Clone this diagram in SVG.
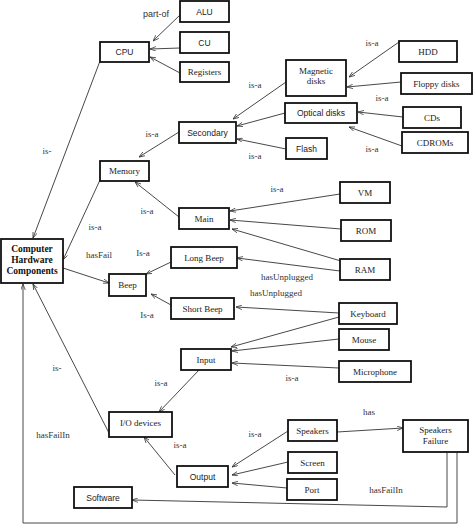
<svg xmlns="http://www.w3.org/2000/svg" width="474" height="529" viewBox="0 0 474 529">
<style>
.box{fill:#fff;stroke:#111;stroke-width:1.8}
.t{font-family:"Liberation Serif",serif;font-size:9px;fill:#222;text-anchor:middle;dominant-baseline:central}
.s{font-family:"Liberation Sans",sans-serif;font-size:8.5px;fill:#222;text-anchor:middle;dominant-baseline:central}
.b{font-family:"Liberation Serif",serif;font-size:9.5px;font-weight:bold;fill:#111;text-anchor:middle}
.l{font-family:"Liberation Serif",serif;font-size:9px;fill:#333;text-anchor:middle;dominant-baseline:central}
.ls{font-family:"Liberation Sans",sans-serif;font-size:9px;fill:#333;text-anchor:middle;dominant-baseline:central}
.c{fill:none;stroke:#333;stroke-width:0.9}
.a{marker-end:url(#ah)}
</style>
<defs>
<marker id="ah" viewBox="0 0 8 6" refX="8" refY="3" markerWidth="6" markerHeight="5" orient="auto" markerUnits="userSpaceOnUse">
<path d="M0,0 L8,3 L0,6" fill="none" stroke="#333" stroke-width="1"/>
</marker>
</defs>
<rect width="474" height="529" fill="#fff"/>
<g id="connectors">
<line class="c a" x1="180" y1="15" x2="153" y2="41"/>
<line class="c a" x1="180" y1="48" x2="150" y2="49"/>
<line class="c a" x1="180" y1="73" x2="150" y2="57"/>
<line class="c a" x1="100" y1="61" x2="33" y2="238"/>
<line class="c a" x1="179" y1="132" x2="139" y2="157"/>
<line class="c a" x1="286" y1="82" x2="233" y2="119"/>
<line class="c a" x1="285" y1="113" x2="237" y2="126"/>
<line class="c a" x1="286" y1="149" x2="237" y2="139"/>
<line class="c a" x1="399" y1="42" x2="349" y2="77"/>
<line class="c a" x1="401" y1="82" x2="347" y2="87"/>
<line class="c a" x1="403" y1="117" x2="358" y2="112"/>
<line class="c a" x1="402" y1="146" x2="349" y2="127"/>
<line class="c a" x1="179" y1="217" x2="135" y2="182"/>
<line class="c a" x1="100" y1="180" x2="63" y2="260"/>
<line class="c a" x1="340" y1="194" x2="230" y2="211"/>
<line class="c a" x1="341" y1="229" x2="230" y2="220"/>
<line class="c a" x1="341" y1="261" x2="232" y2="229"/>
<line class="c a" x1="340" y1="271" x2="237" y2="258"/>
<line class="c a" x1="339" y1="313" x2="236" y2="307"/>
<line class="c a" x1="339" y1="317" x2="231" y2="347"/>
<line class="c a" x1="339" y1="339" x2="232" y2="351"/>
<line class="c a" x1="339" y1="368" x2="232" y2="363"/>
<line class="c a" x1="171" y1="262" x2="146" y2="274"/>
<line class="c a" x1="171" y1="305" x2="151" y2="294"/>
<line class="c a" x1="63" y1="268" x2="109" y2="283"/>
<line class="c a" x1="199" y1="370" x2="159" y2="412"/>
<line class="c a" x1="175" y1="475" x2="144" y2="437"/>
<line class="c a" x1="109" y1="433" x2="33" y2="284"/>
<line class="c a" x1="288" y1="431" x2="232" y2="467"/>
<line class="c a" x1="288" y1="462" x2="232" y2="475"/>
<line class="c a" x1="287" y1="488" x2="232" y2="483"/>
<line class="c a" x1="337" y1="432" x2="403" y2="428"/>
<polyline class="c a" points="447,452 447,507 132,500"/>
<polyline class="c a" points="457,452 457,523 23,523 23,284"/>
</g>
<g id="labels">
<text class="ls" x="156" y="14">part-of</text>
<text class="l" x="47" y="151">is-</text>
<text class="l" x="152" y="134">is-a</text>
<text class="l" x="372" y="43">is-a</text>
<text class="l" x="255" y="85">is-a</text>
<text class="l" x="382" y="98">is-a</text>
<text class="l" x="372" y="149">is-a</text>
<text class="l" x="255" y="156">is-a</text>
<text class="l" x="95" y="227">is-a</text>
<text class="l" x="147" y="211">is-a</text>
<text class="l" x="277" y="189">is-a</text>
<text class="l" x="99" y="255">hasFail</text>
<text class="l" x="143" y="253">Is-a</text>
<text class="l" x="147" y="315">Is-a</text>
<text class="l" x="287" y="277">hasUnplugged</text>
<text class="l" x="276" y="293">hasUnplugged</text>
<text class="l" x="57" y="368">is-</text>
<text class="l" x="161" y="383">is-a</text>
<text class="l" x="292" y="378">is-a</text>
<text class="l" x="53" y="435">hasFailIn</text>
<text class="l" x="180" y="445">is-a</text>
<text class="l" x="369" y="412">has</text>
<text class="l" x="255" y="434">is-a</text>
<text class="l" x="386" y="490">hasFailIn</text>
</g>
<g id="ALU"><rect class="box" x="180" y="1" width="49" height="21"/><text class="s" x="204.5" y="11.5">ALU</text></g>
<g id="CU"><rect class="box" x="180" y="32" width="49" height="21"/><text class="s" x="204.5" y="42.5">CU</text></g>
<g id="Registers"><rect class="box" x="180" y="62" width="49" height="20"/><text class="t" x="204.5" y="72">Registers</text></g>
<g id="CPU"><rect class="box" x="100" y="42" width="49" height="20"/><text class="s" x="124.5" y="52">CPU</text></g>
<g id="MagneticDisks"><rect class="box" x="286" y="60" width="60" height="36"/><text class="t" x="316" y="71">Magnetic</text><text class="t" x="316" y="81">disks</text></g>
<g id="HDD"><rect class="box" x="399" y="41" width="58" height="21"/><text class="t" x="428" y="51.5">HDD</text></g>
<g id="FloppyDisks"><rect class="box" x="401" y="73" width="71" height="21"/><text class="t" x="436.5" y="83.5">Floppy disks</text></g>
<g id="OpticalDisks"><rect class="box" x="285" y="103" width="72" height="20"/><text class="s" x="321" y="113">Optical disks</text></g>
<g id="CDs"><rect class="box" x="403" y="107" width="58" height="21"/><text class="t" x="432" y="117.5">CDs</text></g>
<g id="CDROMs"><rect class="box" x="402" y="132" width="66" height="21"/><text class="t" x="435" y="142.5">CDROMs</text></g>
<g id="Flash"><rect class="box" x="286" y="138" width="41" height="21"/><text class="s" x="306.5" y="148.5">Flash</text></g>
<g id="Secondary"><rect class="box" x="179" y="122" width="57" height="21"/><text class="s" x="207.5" y="132.5">Secondary</text></g>
<g id="Memory"><rect class="box" x="100" y="161" width="49" height="20"/><text class="t" x="124.5" y="171">Memory</text></g>
<g id="Main"><rect class="box" x="179" y="208" width="50" height="21"/><text class="t" x="204" y="218.5">Main</text></g>
<g id="VM"><rect class="box" x="340" y="182" width="50" height="21"/><text class="t" x="365" y="192.5">VM</text></g>
<g id="ROM"><rect class="box" x="341" y="220" width="50" height="21"/><text class="t" x="366" y="230.5">ROM</text></g>
<g id="RAM"><rect class="box" x="340" y="259" width="50" height="21"/><text class="t" x="365" y="269.5">RAM</text></g>
<g id="CHC"><rect class="box" x="1" y="239" width="62" height="44"/><text class="b" x="32" y="252">Computer</text><text class="b" x="32" y="263">Hardware</text><text class="b" x="32" y="274">Components</text></g>
<g id="LongBeep"><rect class="box" x="171" y="247" width="66" height="21"/><text class="t" x="204" y="257.5">Long Beep</text></g>
<g id="Beep"><rect class="box" x="109" y="274" width="37" height="22"/><text class="t" x="127.5" y="285">Beep</text></g>
<g id="ShortBeep"><rect class="box" x="171" y="298" width="63" height="21"/><text class="t" x="202.5" y="308.5">Short Beep</text></g>
<g id="Keyboard"><rect class="box" x="339" y="303" width="58" height="21"/><text class="t" x="368" y="313.5">Keyboard</text></g>
<g id="Mouse"><rect class="box" x="339" y="329" width="50" height="21"/><text class="t" x="364" y="339.5">Mouse</text></g>
<g id="Microphone"><rect class="box" x="339" y="361" width="72" height="21"/><text class="t" x="375" y="371.5">Microphone</text></g>
<g id="Input"><rect class="box" x="181" y="349" width="50" height="21"/><text class="t" x="206" y="359.5">Input</text></g>
<g id="IODevices"><rect class="box" x="109" y="412" width="63" height="25"/><text class="t" x="140.5" y="422.5">I/O devices</text></g>
<g id="Output"><rect class="box" x="177" y="466" width="51" height="21"/><text class="s" x="202.5" y="476.5">Output</text></g>
<g id="Speakers"><rect class="box" x="288" y="420" width="49" height="21"/><text class="t" x="312.5" y="430.5">Speakers</text></g>
<g id="SpeakersFailure"><rect class="box" x="403" y="420" width="65" height="32"/><text class="t" x="435.5" y="430">Speakers</text><text class="t" x="435.5" y="440.5">Failure</text></g>
<g id="Screen"><rect class="box" x="288" y="452" width="49" height="21"/><text class="t" x="312.5" y="462.5">Screen</text></g>
<g id="Port"><rect class="box" x="287" y="479" width="50" height="21"/><text class="t" x="312" y="489.5">Port</text></g>
<g id="Software"><rect class="box" x="74" y="487" width="58" height="21"/><text class="s" x="103" y="497.5">Software</text></g>
</svg>
